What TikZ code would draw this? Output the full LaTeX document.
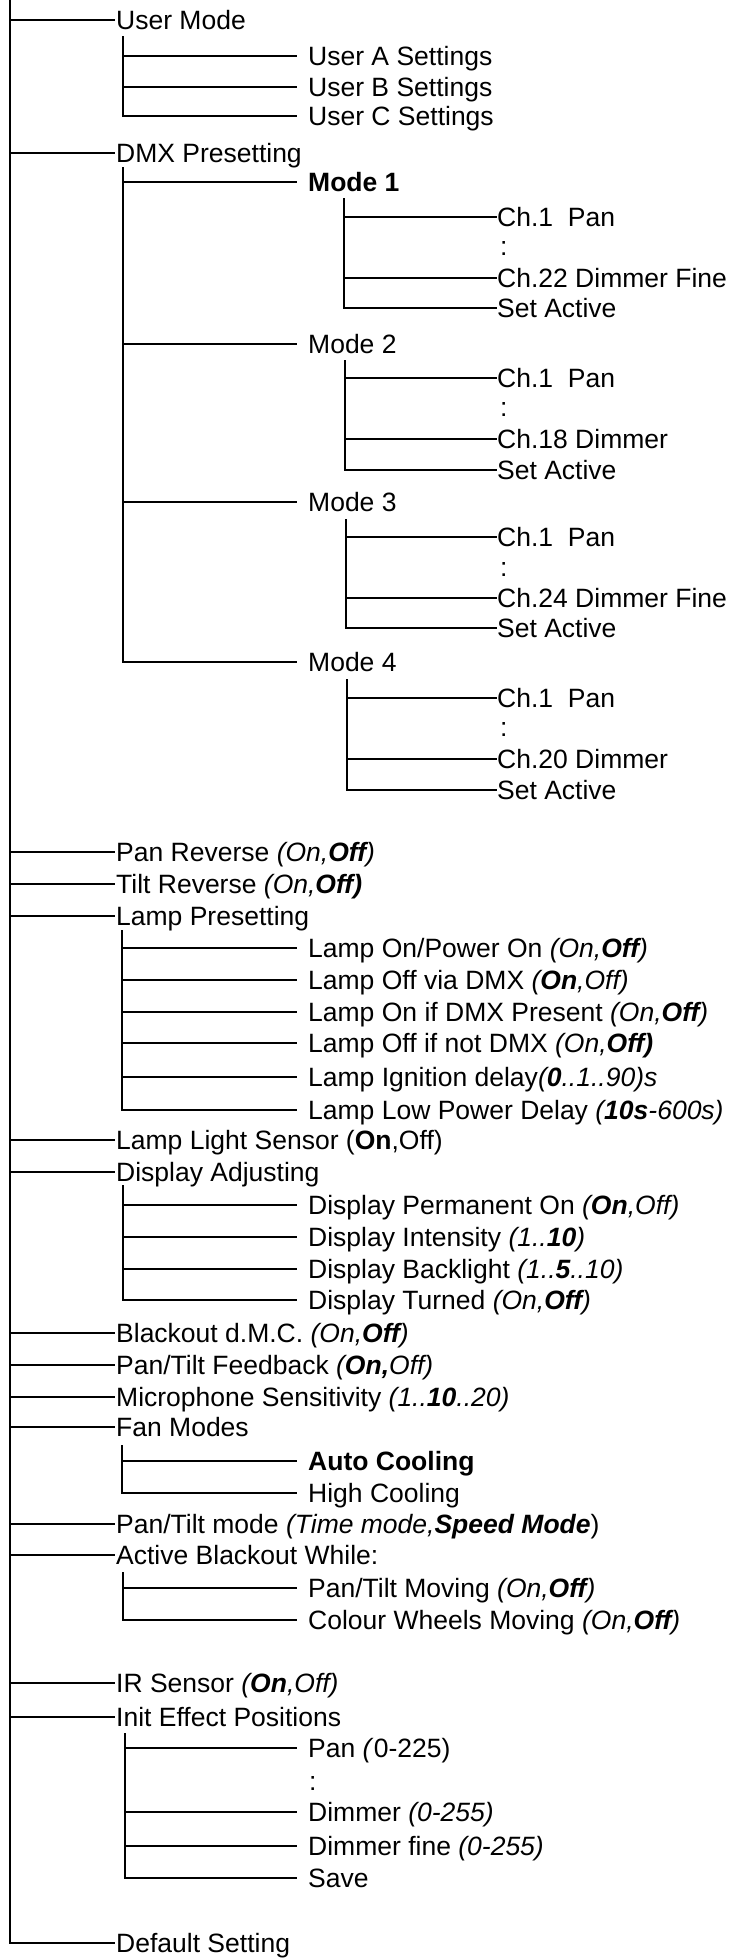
\documentclass[tikz,border=0pt]{standalone}
\usepackage{fontspec}
\setmainfont{Liberation Sans}
\newcommand\labfont{\fontsize{26.5bp}{31bp}\selectfont}
\begin{document}
\begin{tikzpicture}[x=1bp,y=-1bp,
  conn/.style={line width=2.4bp,black},
  lab/.style={anchor=west,inner sep=0pt,text height=19bp,text depth=0pt,font=\labfont},
  lone/.style={conn,shorten >=1bp},
  ltwo/.style={conn,shorten >=11bp},
  lthree/.style={conn}]
\useasboundingbox (0,0) rectangle (732,1959);
% ---------- level 1 ----------
\coordinate (T0) at (10,0);
\node[lab] (um)  at (116,20)   {User Mode};
\node[lab] (dmx) at (116,153)  {DMX Presetting};
\node[lab] (pr)  at (116,852)  {Pan Reverse \textit{(On,\textbf{Off})}};
\node[lab] (tr)  at (116,884)  {Tilt Reverse \textit{(On,\textbf{Off)}}};
\node[lab] (lp)  at (116,916)  {Lamp Presetting};
\node[lab] (ls)  at (116,1140) {Lamp Light Sensor (\textbf{On},Off)};
\node[lab] (da)  at (116,1172) {Display Adjusting};
\node[lab] (bo)  at (116,1333) {Blackout d.M.C. \textit{(On,\textbf{Off})}};
\node[lab] (pf)  at (116,1365) {Pan/Tilt Feedback \textit{(\textbf{On,}Off)}};
\node[lab] (ms)  at (116,1397) {Microphone Sensitivity \textit{(1..\textbf{10}..20)}};
\node[lab] (fm)  at (116,1427) {Fan Modes};
\node[lab] (pm)  at (116,1524) {Pan/Tilt mode \textit{(Time mode,\textbf{Speed Mode}})};
\node[lab] (ab)  at (116,1555) {Active Blackout While:};
\node[lab] (ir)  at (116,1683) {IR Sensor \textit{(\textbf{On},Off)}};
\node[lab] (ie)  at (116,1717) {Init Effect Positions};
\node[lab] (ds)  at (116,1943) {Default Setting};
\foreach \n in {um,dmx,pr,tr,lp,ls,da,bo,pf,ms,fm,pm,ab,ir,ie,ds}
  \draw[lone] (T0) |- (\n.west);
% ---------- User Mode ----------
\coordinate (Tum) at (123,36);
\node[lab] (ua) at (308,56)  {User A Settings};
\node[lab] (ub) at (308,87)  {User B Settings};
\node[lab] (uc) at (308,116) {User C Settings};
\foreach \n in {ua,ub,uc} \draw[ltwo] (Tum) |- (\n.west);
% ---------- DMX Presetting ----------
\coordinate (Tdmx) at (123,167);
\node[lab] (m1) at (308,182) {\textbf{Mode 1}};
\node[lab] (m2) at (308,344) {Mode 2};
\node[lab] (m3) at (308,502) {Mode 3};
\node[lab] (m4) at (308,662) {Mode 4};
\foreach \n in {m1,m2,m3,m4} \draw[ltwo] (Tdmx) |- (\n.west);
% Mode 1
\coordinate (Tm1) at (344,198);
\node[lab] (m1a) at (497,217) {Ch.1\ \ Pan};
\node[lab] (m1b) at (500,246) {:};
\node[lab] (m1c) at (497,278) {Ch.22 Dimmer Fine};
\node[lab] (m1d) at (497,308) {Set Active};
\foreach \n in {m1a,m1c,m1d} \draw[lthree] (Tm1) |- (\n.west);
% Mode 2
\coordinate (Tm2) at (345,360);
\node[lab] (m2a) at (497,378) {Ch.1\ \ Pan};
\node[lab] (m2b) at (500,407) {:};
\node[lab] (m2c) at (497,439) {Ch.18 Dimmer};
\node[lab] (m2d) at (497,470) {Set Active};
\foreach \n in {m2a,m2c,m2d} \draw[lthree] (Tm2) |- (\n.west);
% Mode 3
\coordinate (Tm3) at (346,519);
\node[lab] (m3a) at (497,537) {Ch.1\ \ Pan};
\node[lab] (m3b) at (500,567) {:};
\node[lab] (m3c) at (497,598) {Ch.24 Dimmer Fine};
\node[lab] (m3d) at (497,628) {Set Active};
\foreach \n in {m3a,m3c,m3d} \draw[lthree] (Tm3) |- (\n.west);
% Mode 4
\coordinate (Tm4) at (347,679);
\node[lab] (m4a) at (497,698) {Ch.1\ \ Pan};
\node[lab] (m4b) at (500,727) {:};
\node[lab] (m4c) at (497,759) {Ch.20 Dimmer};
\node[lab] (m4d) at (497,790) {Set Active};
\foreach \n in {m4a,m4c,m4d} \draw[lthree] (Tm4) |- (\n.west);
% ---------- Lamp Presetting ----------
\coordinate (Tlp) at (122,930);
\node[lab] (lpa) at (308,948)  {Lamp On/Power On \textit{(On,\textbf{Off})}};
\node[lab] (lpb) at (308,980)  {Lamp Off via DMX \textit{(\textbf{On},Off)}};
\node[lab] (lpc) at (308,1012) {Lamp On if DMX Present \textit{(On,\textbf{Off})}};
\node[lab] (lpd) at (308,1043) {Lamp Off if not DMX \textit{(On,\textbf{Off)}}};
\node[lab] (lpe) at (308,1077) {Lamp Ignition delay\textit{(\textbf{0}..1..90)s}};
\node[lab] (lpf) at (308,1110) {Lamp Low Power Delay \textit{(\textbf{10s}-600s)}};
\foreach \n in {lpa,lpb,lpc,lpd,lpe,lpf} \draw[ltwo] (Tlp) |- (\n.west);
% ---------- Display Adjusting ----------
\coordinate (Tda) at (123,1185);
\node[lab] (daa) at (308,1205) {Display Permanent On \textit{(\textbf{On},Off)}};
\node[lab] (dab) at (308,1237) {Display Intensity \textit{(1..\textbf{10})}};
\node[lab] (dac) at (308,1269) {Display Backlight \textit{(1..\textbf{5}..10)}};
\node[lab] (dad) at (308,1300) {Display Turned \textit{(On,\textbf{Off})}};
\foreach \n in {daa,dab,dac,dad} \draw[ltwo] (Tda) |- (\n.west);
% ---------- Fan Modes ----------
\coordinate (Tfm) at (122,1445);
\node[lab] (fma) at (308,1461) {\textbf{Auto Cooling}};
\node[lab] (fmb) at (308,1493) {High Cooling};
\foreach \n in {fma,fmb} \draw[ltwo] (Tfm) |- (\n.west);
% ---------- Active Blackout While ----------
\coordinate (Tab) at (123,1572);
\node[lab] (aba) at (308,1588) {Pan/Tilt Moving \textit{(On,\textbf{Off})}};
\node[lab] (abb) at (308,1620) {Colour Wheels Moving \textit{(On,\textbf{Off})}};
\foreach \n in {aba,abb} \draw[ltwo] (Tab) |- (\n.west);
% ---------- Init Effect Positions ----------
\coordinate (Tie) at (125,1733);
\node[lab] (iea) at (308,1748) {Pan \textit{(}0-225)};
\node[lab] (ieb) at (309,1781) {:};
\node[lab] (iec) at (308,1812) {Dimmer \textit{(0-255)}};
\node[lab] (ied) at (308,1846) {Dimmer fine \textit{(0-255)}};
\node[lab] (iee) at (308,1878) {Save};
\foreach \n in {iea,iec,ied,iee} \draw[ltwo] (Tie) |- (\n.west);
\end{tikzpicture}
\end{document}
